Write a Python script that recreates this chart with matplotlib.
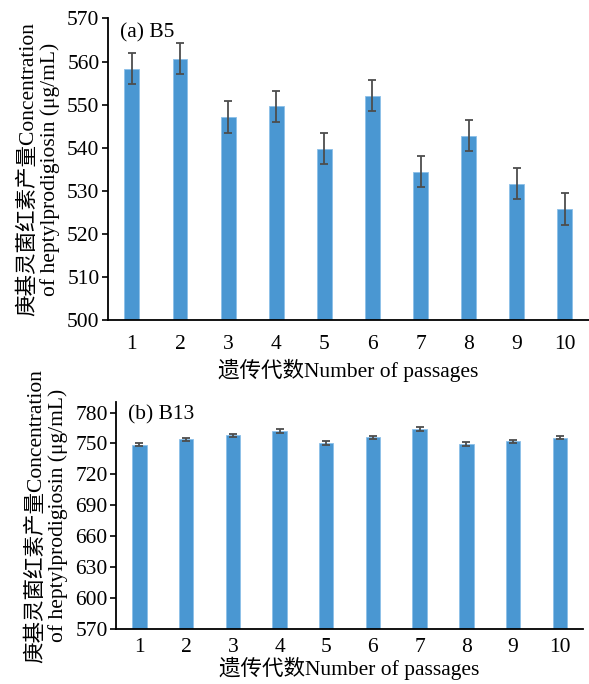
import matplotlib.pyplot as plt
import numpy as np

plt.rcParams['font.family'] = ['Liberation Serif', 'Noto Sans CJK SC']

passages = [1, 2, 3, 4, 5, 6, 7, 8, 9, 10]

# B5 strain
b5_mean = [558.3, 560.7, 547.2, 549.6, 539.8, 552.1, 534.4, 542.8, 531.6, 525.8]
b5_err = [3.6, 3.6, 3.7, 3.6, 3.6, 3.6, 3.6, 3.6, 3.6, 3.7]

# B13 strain
b13_mean = [749.0, 754.0, 758.0, 762.0, 750.6, 756.0, 764.0, 749.4, 752.0, 755.5]
b13_err = [1.6, 1.6, 1.6, 1.6, 1.6, 1.6, 1.6, 1.6, 1.6, 1.6]

ylabel = '庚基灵菌红素产量Concentration\nof heptylprodigiosin (μg/mL)'
xlabel = '遗传代数Number of passages'

bar_color = '#4a97d2'
err_color = '#4d4d4d'

fig = plt.figure(figsize=(5.89, 6.84), dpi=100)
ax1 = fig.add_axes([0.183, 0.532, 0.817, 0.441])
ax2 = fig.add_axes([0.197, 0.080, 0.793, 0.332])


def draw(ax, mean, err, yticks, ylim, tag, xpad, lpad):
    ax.bar(passages, mean, width=0.31, color=bar_color, edgecolor='#8cc0e8',
           linewidth=0.6, zorder=2)
    ax.errorbar(passages, mean, yerr=err, fmt='none', ecolor=err_color,
                elinewidth=1.3, capsize=3, capthick=1.3, zorder=3)
    ax.set_xlim(0.5, 10.5)
    ax.set_ylim(*ylim)
    ax.set_yticks(yticks)
    ax.set_xticks(passages)
    ax.spines['top'].set_visible(False)
    ax.spines['right'].set_visible(False)
    ax.spines['left'].set_linewidth(1.3)
    ax.spines['bottom'].set_linewidth(1.3)
    ax.tick_params(axis='y', length=4, width=1.2, labelsize=15.5, pad=2)
    ax.tick_params(axis='x', length=0, labelsize=15.5, pad=xpad)
    ax.set_xlabel(xlabel, fontsize=15.5, labelpad=lpad)
    ax.set_ylabel(ylabel, fontsize=15.5, linespacing=1.15, labelpad=5)
    ax.text(0.025, 0.985, tag, transform=ax.transAxes, fontsize=15.5,
            va='top', ha='left')


draw(ax1, b5_mean, b5_err, np.arange(500, 571, 10), (500, 570), '(a) B5', 11, 3)
draw(ax2, b13_mean, b13_err, np.arange(570, 781, 30), (570, 790), '(b) B13', 6, 0)

fig.savefig('out.png', dpi=100)
